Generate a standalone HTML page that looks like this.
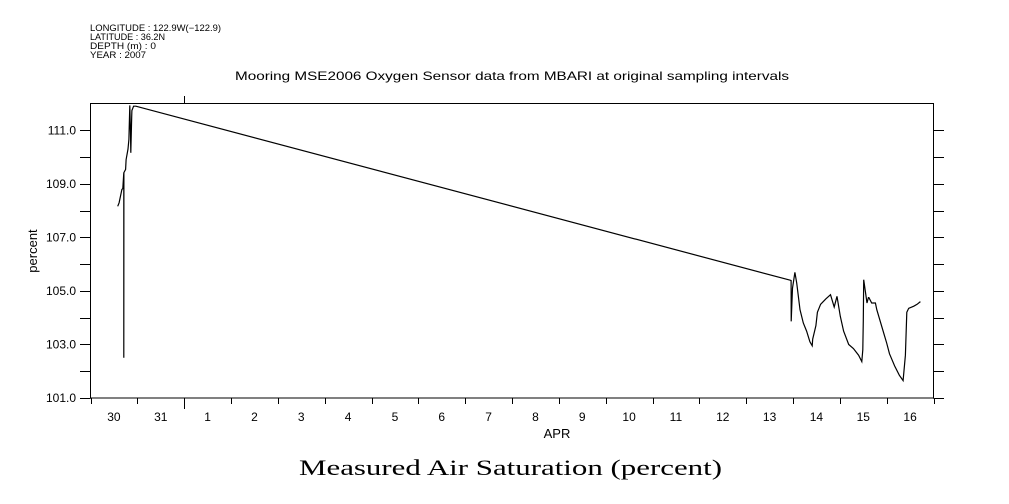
<!DOCTYPE html>
<html><head><meta charset="utf-8"><style>
body{margin:0;background:#fff;}
svg{display:block;font-family:"Liberation Sans",sans-serif;}
</style></head><body>
<svg id="c" width="1009" height="504" viewBox="0 0 1009 504">
<g font-size="9" fill="#000">
<text x="90" y="31" textLength="131" lengthAdjust="spacingAndGlyphs">LONGITUDE : 122.9W(−122.9)</text>
<text x="90" y="40" textLength="75" lengthAdjust="spacingAndGlyphs">LATITUDE : 36.2N</text>
<text x="90" y="49" textLength="66" lengthAdjust="spacingAndGlyphs">DEPTH (m) : 0</text>
<text x="90" y="58" textLength="56" lengthAdjust="spacingAndGlyphs">YEAR : 2007</text>
</g>
<text x="235" y="80" textLength="554" lengthAdjust="spacingAndGlyphs" font-size="12">Mooring MSE2006 Oxygen Sensor data from MBARI at original sampling intervals</text>
<text x="0" y="0" transform="translate(37,251) rotate(-90)" text-anchor="middle" font-size="13">percent</text>
<text x="557" y="438" text-anchor="middle" font-size="13">APR</text>
<text x="299" y="475" textLength="423" lengthAdjust="spacingAndGlyphs" font-size="22" font-family="'Liberation Serif',serif">Measured Air Saturation (percent)</text>
<rect x="90.5" y="103.5" width="843" height="294.5" fill="none" stroke="#000" stroke-width="1"/>
<g id="axes"></g>
<path id="line" fill="none" stroke="#000" stroke-width="1.2"/>
</svg>
<script>
const dayLabels=["30","31","1","2","3","4","5","6","7","8","9","10","11","12","13","14","15","16"];
const yTicks=[101,102,103,104,105,106,107,108,109,110,111];
const yLabels=["101.0","103.0","105.0","107.0","109.0","111.0"];
const times=[0.58,0.61,0.67,0.69,0.71,0.712,0.714,0.75,0.76,0.80,0.82,0.84,0.855,0.86,0.88,0.885,0.92,0.97,14.94,14.96,14.962,14.99,15.04,15.08,15.15,15.22,15.29,15.36,15.41,15.42,15.49,15.52,15.59,15.70,15.80,15.88,15.94,16.01,16.08,16.19,16.29,16.40,16.47,16.49,16.50,16.51,16.58,16.61,16.62,16.68,16.76,16.79,16.95,17.00,17.06,17.17,17.27,17.35,17.40,17.43,17.47,17.58,17.65,17.72];
const vals=[108.16,108.29,108.79,108.82,109.42,102.5,109.42,109.54,109.9,110.3,110.66,111.93,110.9,110.16,111.5,111.74,111.9,111.9,105.40,105.39,103.86,105.1,105.69,105.3,104.3,103.8,103.5,103.1,102.95,103.2,103.7,104.2,104.5,104.7,104.86,104.4,104.8,104.05,103.5,103.0,102.85,102.6,102.36,102.8,103.9,105.42,104.55,104.75,104.75,104.55,104.55,104.3,103.35,103.05,102.65,102.2,101.85,101.65,102.6,104.2,104.35,104.43,104.5,104.6];
const X0=90.5,X1=933.5,Y0=398,Y1=103.5,NDAYS=18,YMIN=101,YMAX=112;
const xs=d=>X0+(X1-X0)*d/NDAYS, ys=v=>Y0-(Y0-Y1)*(v-YMIN)/(YMAX-YMIN);
const NS="http://www.w3.org/2000/svg",ax=document.getElementById('axes');
function ln(x1,y1,x2,y2,name){const l=document.createElementNS(NS,'line');l.setAttribute('x1',x1);l.setAttribute('y1',y1);l.setAttribute('x2',x2);l.setAttribute('y2',y2);l.setAttribute('stroke','#000');


ax.appendChild(l);}
function tx(x,y,s,anchor,name){const t=document.createElementNS(NS,'text');t.setAttribute('x',x);t.setAttribute('y',y);t.setAttribute('text-anchor',anchor);t.setAttribute('font-size','12');t.textContent=s;


ax.appendChild(t);}
yTicks.forEach(v=>{const y=Math.round(ys(v))+0.5;ln(80,y,90.5,y,'y-tick');ln(933.5,y,944,y,'y-tick-right');});
yLabels.forEach(s=>tx(76,ys(+s)+4,s,'end','y-tick-label'));
for(let d=0;d<=NDAYS;d++){const x=Math.round(xs(d))+0.5;const m=(d===2);ln(x,398,x,m?409:404,'x-tick');if(m)ln(x,103.5,x,96,'x-tick-top');}
dayLabels.forEach((s,i)=>tx(xs(i+0.5),421,s,'middle','x-tick-label'));
document.getElementById('line').setAttribute('d',times.map((t,i)=>(i?'L':'M')+xs(t).toFixed(1)+' '+ys(vals[i]).toFixed(1)).join(' '));
</script>
</body></html>
